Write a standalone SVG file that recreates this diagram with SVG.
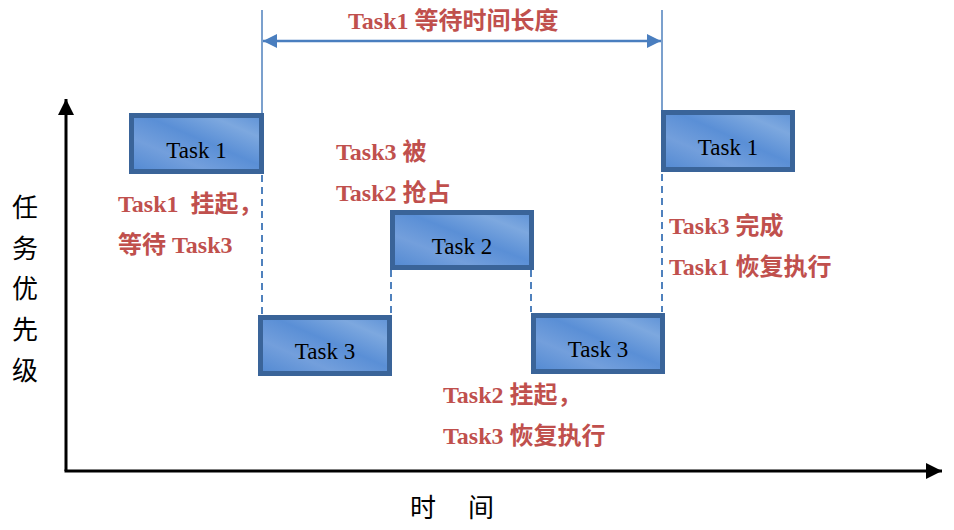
<svg xmlns="http://www.w3.org/2000/svg" width="954" height="530" viewBox="0 0 954 530">
<style>
.box{stroke:#3a6499;stroke-width:5;fill:url(#g)}
.bt{font-family:"Liberation Serif","Noto Sans CJK SC",serif;font-size:23px;fill:#000;text-anchor:middle}
.lb{font-family:"Liberation Serif","Noto Sans CJK SC",serif;font-size:24px;font-weight:bold;fill:#c0504d;white-space:pre}
.ax{font-family:"Noto Sans CJK SC",serif;font-size:26px;fill:#000}
.sol{stroke:#4f81bd;stroke-width:1.5;fill:none}
.dash{stroke:#4f81bd;stroke-width:2;fill:none;stroke-dasharray:7,5}
</style>
<defs>
<linearGradient id="g" x1="0" y1="1" x2="1" y2="0">
<stop offset="0" stop-color="#5289d2"/>
<stop offset="0.3" stop-color="#739fdc"/>
<stop offset="0.55" stop-color="#5a8fd6"/>
<stop offset="0.8" stop-color="#7da8df"/>
<stop offset="1" stop-color="#5e92d7"/>
</linearGradient>
<marker id="ba" viewBox="0 0 10 10" refX="10" refY="5" markerWidth="14" markerHeight="14" markerUnits="userSpaceOnUse" orient="auto-start-reverse">
<path d="M0,0 L10,5 L0,10 Z" fill="#4a7ebf"/>
</marker>
<marker id="ka" viewBox="0 0 10 10" refX="10" refY="5" markerWidth="16" markerHeight="16" markerUnits="userSpaceOnUse" orient="auto">
<path d="M0,0 L10,5 L0,10 Z" fill="#000"/>
</marker>
</defs>
<g id="connectors">
<line x1="66" y1="471" x2="66" y2="99" stroke="#000" stroke-width="3" marker-end="url(#ka)"/>
<line x1="64.5" y1="471" x2="942" y2="471" stroke="#000" stroke-width="3" marker-end="url(#ka)"/>
<line class="sol" x1="262" y1="10" x2="262" y2="113"/>
<line class="sol" x1="662" y1="10" x2="662" y2="110"/>
<line class="dash" x1="262" y1="175" x2="262" y2="314"/>
<line class="dash" x1="662" y1="174" x2="662" y2="312"/>
<line class="dash" x1="391" y1="270" x2="391" y2="314"/>
<line class="dash" x1="531" y1="270" x2="531" y2="312"/>
<line x1="263" y1="41" x2="661" y2="41" stroke="#4a7ebf" stroke-width="2.5" marker-start="url(#ba)" marker-end="url(#ba)"/>
</g>
<g id="task1a"><rect class="box" x="131.5" y="115.5" width="130" height="56"/><text class="bt" x="196.5" y="158">Task 1</text></g>
<g id="task1b"><rect class="box" x="663.5" y="112.5" width="129" height="57"/><text class="bt" x="728" y="155">Task 1</text></g>
<g id="task2"><rect class="box" x="392.5" y="212.5" width="139" height="55"/><text class="bt" x="462" y="254">Task 2</text></g>
<g id="task3a"><rect class="box" x="260.5" y="317.5" width="129" height="56"/><text class="bt" x="325" y="359">Task 3</text></g>
<g id="task3b"><rect class="box" x="533.5" y="315.5" width="129" height="56"/><text class="bt" x="598" y="357">Task 3</text></g>
<g id="labels">
<text class="lb" x="348" y="29">Task1 等待时间长度</text>
<text class="lb" x="118" y="212" xml:space="preserve">Task1  挂起，</text>
<text class="lb" x="118" y="253">等待 Task3</text>
<text class="lb" x="336" y="160">Task3 被</text>
<text class="lb" x="336" y="201">Task2 抢占</text>
<text class="lb" x="669" y="234">Task3 完成</text>
<text class="lb" x="669" y="275">Task1 恢复执行</text>
<text class="lb" x="443" y="403">Task2 挂起，</text>
<text class="lb" x="443" y="444">Task3 恢复执行</text>
<text class="ax" x="12" y="217">任</text>
<text class="ax" x="12" y="258">务</text>
<text class="ax" x="12" y="298">优</text>
<text class="ax" x="12" y="339">先</text>
<text class="ax" x="12" y="380">级</text>
<text class="ax" x="410" y="517">时</text>
<text class="ax" x="468" y="517">间</text>
</g>
</svg>
